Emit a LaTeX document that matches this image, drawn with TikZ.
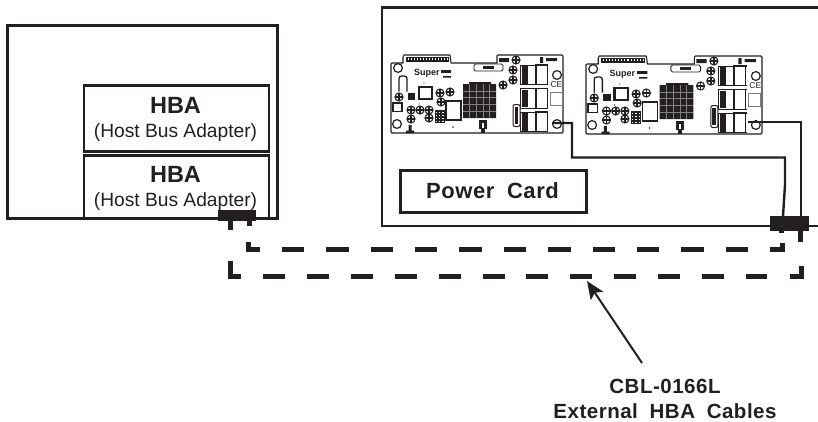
\documentclass[tikz,border=0pt]{standalone}
\usepackage{fontspec}
\setmainfont{Liberation Sans}
\usetikzlibrary{arrows.meta}
\definecolor{ink}{HTML}{231F20}
\tikzset{
  x=1pt,y=-1pt,
  hbabox/.style={draw=ink,line width=2.6pt,rectangle,inner sep=0pt,minimum width=185pt,minimum height=#1,anchor=north west},
  big/.style={font=\fontsize{23.5}{23.5}\selectfont\bfseries,text=ink,anchor=base,inner sep=0pt},
  sub/.style={font=\fontsize{19.2}{19.2}\selectfont,text=ink,anchor=base,inner sep=0pt},
  caption/.style={font=\fontsize{20.5}{20.5}\selectfont\bfseries\addfontfeature{LetterSpace=2.5},text=ink,anchor=base,inner sep=0pt},
  plug/.style={fill=ink,draw=none,rectangle,inner sep=0pt,anchor=north west},
  stub/.style={draw=ink,line width=5pt},
  cable/.style={draw=ink,line width=5pt,miter limit=10},
  wire/.style={draw=ink,line width=2.4pt},
  cap/.pic={
    \draw[ink,line width=1.1pt,fill=white] (0,0) circle[radius=4];
    \draw[ink,line width=1.7pt] (-3.6,0) -- (3.6,0) (0,-3.6) -- (0,3.6);
  },
  hole/.pic={\draw[ink,line width=1.2pt,fill=white] (0,0) circle[radius=4.4];},
  pcard/.pic={
    % outline
    \draw[ink,line width=1.1pt,line join=round,fill=white]
      (0,1) -- (0,69) -- (1,70) -- (171,70) -- (172,69) -- (172,-7) -- (171,-8)
      -- (107,-8) -- (106,-7) -- (106,0) -- (60,0) -- (59,-8) -- (13,-8) -- (12,-6)
      -- (12,0) -- (1,0) -- cycle;
    % top header
    \fill[ink] (15,-6.5) rectangle (58,-1.5);
    \foreach \k in {0,...,13}{\fill[white] (16.5+3*\k,-4.8) rectangle (17.6+3*\k,-3.4);}
    % logo
    \node[font=\fontsize{9}{9}\selectfont\bfseries,text=ink,inner sep=0pt,anchor=west] at (23,10) {Super};
    \fill[ink] (50,7) rectangle (60,9.8) (52,13) rectangle (60,14.5);
    % holes
    \pic at (7,5) {hole};
    \pic at (166,12) {hole};
    \pic at (166,61) {hole};
    \pic at (6,61) {hole};
    % left parts
    \draw[ink,line width=1.3pt,rounded corners=2.5pt] (8,28.5) -- (8,13) -- (16,13) -- (16,28.5);
    \fill[ink] (17,30) rectangle (24,37);
    \draw[ink,line width=1.3pt,fill=white] (2,40) rectangle (11,48.5);
    \fill[ink] (17.5,62) rectangle (20.5,68) (15,67.5) rectangle (23,70);
    % IC
    \draw[ink,line width=2.4pt,fill=white] (28,24) rectangle (41,36);
    \fill[ink] (33,20) circle[radius=0.7] (28,41) circle[radius=0.7];
    % chip cluster
    \fill[ink] (44,47) rectangle (54,60);
    \foreach \a in {0,1,2}{\foreach \b in {0,1,2,3}{\fill[white] (45+3.2*\a,48.5+3*\b) rectangle (46.2+3.2*\a,49.4+3*\b);}}
    % white chip
    \draw[ink,line width=1.4pt,fill=white] (55,38) rectangle (70,57);
    \fill[ink] (62,64) circle[radius=0.9];
    % capacitors
    \pic at (8,34) {cap}; \pic at (49,30) {cap}; \pic at (59,29) {cap}; \pic at (50,39) {cap};
    \pic at (20,47) {cap}; \pic at (29,47) {cap}; \pic at (38,47) {cap}; \pic at (20,56) {cap};
    \pic at (38,55) {cap}; \pic at (125,-3) {cap}; \pic at (122,7) {cap}; \pic at (122,17) {cap};
    \pic at (112,22) {cap};
    % heat sink
    \fill[ink] (72,21) rectangle (105,55) (78,19) rectangle (100,21);
    \foreach \g in {1,...,4}{
      \draw[gray,line width=0.5pt] (72+6.6*\g,21) -- (72+6.6*\g,55);
      \draw[gray,line width=0.5pt] (72,21+6.8*\g) -- (105,21+6.8*\g);}
    % top label
    \draw[ink,line width=0.9pt,fill=white,rounded corners=1.5pt] (83,1) rectangle (112,8);
    \fill[ink] (92,3) rectangle (103,6);
    % black connector
    \fill[ink] (88,57) rectangle (96,66);
    \fill[ink] (90,66) rectangle (94,70);
    \fill[white] (91,60) rectangle (93,65);
    % top-right bits
    \fill[ink] (108,-5) rectangle (118,-1) (149,-6) rectangle (152,0) (155,-5) rectangle (166,-2);
    % memory sockets
    \foreach \t in {2,25.5,49}{
      \draw[ink,line width=0.9pt,fill=white] (129,\t) rectangle (144,\t+19.5);
      \fill[ink] (130.5,\t+1) rectangle (136.5,\t+18.5);
      \draw[ink,line width=0.9pt,fill=white] (145,\t) rectangle (156,\t+19.5);
      \fill[ink] (144,\t-1) rectangle (157,\t+.5);
      \fill[ink] (144,\t+19) rectangle (157,\t+20.3);
    }
    % oval
    \draw[ink,line width=1pt,fill=white,rounded corners=2pt] (122,41.5) rectangle (129,63.5);
    \fill[ink] (123.6,44) rectangle (127.4,61);
    % small square and CE
    \draw[gray,line width=1pt,fill=white] (159,29) rectangle (171,42);
    \node[font=\fontsize{8.5}{8.5}\selectfont,text=ink,inner sep=0pt] at (165.5,21.5) {CE};
  }
}
\begin{document}
\begin{tikzpicture}
\useasboundingbox (0,0) rectangle (818,421);
% left chassis
\node[draw=ink,line width=2.5pt,rectangle,inner sep=0pt,minimum width=270pt,minimum height=193pt,anchor=north west] (host) at (6,24) {};
\node[hbabox=66pt] (hbaA) at (82.7,84) {};
\node[hbabox=63pt] (hbaB) at (82.7,154) {};
\node[big] (hbaAt) at (175.5,113) {HBA};
\node[sub] (hbaAs) at (175.5,137.7) {(Host Bus Adapter)};
\node[big] (hbaBt) at (175.5,182.7) {HBA};
\node[sub] (hbaBs) at (175.5,206.7) {(Host Bus Adapter)};
% right chassis (open to the right edge)
\coordinate (rtr) at (818,7.5);
\coordinate (rtl) at (382,7.5);
\coordinate (rbl) at (382,226);
\coordinate (rbr) at (818,226);
\draw[draw=ink,line width=2.6pt] (rtr) -- (rtl) -- (rbl) -- (rbr);
% power card label
\node[draw=ink,line width=2.6pt,rectangle,inner sep=0pt,minimum width=186pt,minimum height=42pt,anchor=north west] (pcbox) at (399,169) {};
\node[font=\fontsize{22}{22}\selectfont\bfseries\addfontfeature{LetterSpace=2.5},text=ink,anchor=base,inner sep=0pt] (pclabel) at (492.5,198) {Power\hspace{6pt} Card};
% cards
\pic (cardA) at (391,63) {pcard};
\pic[xscale=1.023] (cardB) at (586,64) {pcard};
% wires
\coordinate (wa0) at (552,123);
\coordinate (wb0) at (748,122);
\node[plug,minimum width=39pt,minimum height=15pt] (plugR) at (769.5,216) {};
\node[plug,minimum width=38pt,minimum height=11pt] (plugL) at (218,210) {};
\coordinate (wa1) at (783,216);
\coordinate (wb1) at (801,216);
\draw[wire] (wa0) -- (572,123) -- (572,157.5) -- (785,157.5) -- (785,185) -- (wa1);
\draw[wire] (wb0) -- (801,122) -- (wb1);
% stubs
\coordinate (sL1) at (230.7,221);
\coordinate (sL1e) at (230.7,230);
\coordinate (sL2) at (249,221);
\coordinate (sL2e) at (249,226);
\coordinate (sR1) at (781,231);
\coordinate (sR1e) at (781,232.5);
\coordinate (sR2) at (800.7,231);
\coordinate (sR2e) at (800.7,241.5);
\draw[stub] (sL1) -- (sL1e);
\draw[stub] (sL2) -- (sL2e);
\draw[stub] (sR1) -- (sR1e);
\draw[stub] (sR2) -- (sR2e);
% dashed cables: inner
\coordinate (ia) at (248,242);
\coordinate (ib) at (248,249.5);
\coordinate (ic) at (260,249.5);
\coordinate (id) at (282,249.5);
\coordinate (ie) at (748,249.5);
\coordinate (if) at (770,249.5);
\coordinate (ig) at (782.5,249.5);
\coordinate (ih) at (782.5,243);
\draw[cable] (ia) -- (ib) -- (ic);
\draw[cable,dash pattern=on 22.3pt off 22.07pt] (id) -- (ie);
\draw[cable] (if) -- (ig) -- (ih);
% dashed cables: outer
\coordinate (oa) at (230.5,261);
\coordinate (ob) at (230.5,276.7);
\coordinate (oc) at (241,276.7);
\coordinate (od) at (263,276.7);
\coordinate (oe) at (767,276.7);
\coordinate (of) at (790,276.7);
\coordinate (og) at (801,276.7);
\coordinate (oh) at (801,266);
\draw[cable] (oa) -- (ob) -- (oc);
\draw[cable,dash pattern=on 22pt off 21.9pt] (od) -- (oe);
\draw[cable] (of) -- (og) -- (oh);
% caption
\node[caption] (capA) at (665,393) {CBL-0166L};
\node[caption] (capB) at (665,418) {External\hspace{5.5pt} HBA\hspace{5.5pt} Cables};
\coordinate (arrowtail) at (642,363);
\coordinate (arrowtip) at (587,281);
\draw[draw=ink,line width=2pt,-{Stealth[length=18pt,width=15pt,inset=4pt]}] (arrowtail) -- (arrowtip);
\end{tikzpicture}
\end{document}
